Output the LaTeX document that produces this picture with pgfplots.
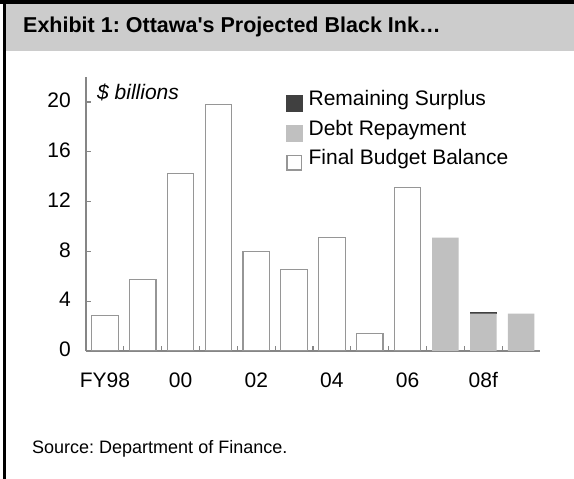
\documentclass[border=0pt]{standalone}
\usepackage{pgfplots}
\pgfplotsset{compat=1.18}
\usepackage{pgfplotstable}
\usepackage{fontspec}
\setmainfont{Liberation Sans}[Ligatures=TeXOff]

\definecolor{hdr}{HTML}{CCCCCC}
\definecolor{axgray}{HTML}{868686}
\definecolor{barline}{HTML}{969696}
\definecolor{debt}{HTML}{C0C0C0}
\definecolor{surplus}{HTML}{404040}

% fiscal years FY98 .. FY09 (08f, 09f forecast), $ billions
\pgfplotstableread{
x final debt surplus
0  2.85  0    0
1  5.75  0    0
2  14.25 0    0
3  19.8  0    0
4  8.0   0    0
5  6.55  0    0
6  9.15  0    0
7  1.4   0    0
8  13.1  0    0
9  0     9.1  0
10 0     3.0  0.1
11 0     3.0  0
}\budget

\begin{document}
\frenchspacing
\begin{tikzpicture}[x=1bp,y=1bp]
\path[use as bounding box] (0,0) rectangle (574,479);
\fill[white] (0,0) rectangle (574,479);
\fill[hdr] (5,428) rectangle (574,475);
\fill[black] (0,475) rectangle (574,478.5);
\fill[black] (3,0) rectangle (5.5,478.5);
\node[anchor=base west, inner sep=0pt, font=\bfseries\fontsize{21.5bp}{25bp}\selectfont]
  at (23,446.5) {Exhibit 1: Ottawa's Projected Black Ink…};
\node[anchor=base west, inner sep=0pt, font=\fontsize{18bp}{22bp}\selectfont]
  at (32,25.5) {Source: Department of Finance.};

\begin{axis}[
    at={(86bp,128bp)}, anchor=south west,
    scale only axis,
    width=454bp, height=273.9bp,
    xmin=-0.5, xmax=11.5,
    ymin=0, ymax=22,
    ybar stacked,
    bar width=0.70,
    axis x line*=bottom,
    axis y line*=left,
    axis line style={axgray, line width=1.5bp, -},
    tick align=inside,
    major tick length=5bp,
    tick style={axgray, line width=1.2bp},
    ytick={0,4,...,20},
    xtick={0.5,1.5,...,10.5},
    xticklabels={,,,,,,,,,,,},
    extra x ticks={0,2,4,6,8,10},
    extra x tick labels={FY98,00,02,04,06,08f},
    extra x tick style={major tick length=0pt,
        xticklabel style={anchor=north, inner sep=0pt, text height=15.5bp,
            text depth=0pt, yshift=-21bp}},
    yticklabel style={anchor=east, inner sep=0pt, xshift=-15bp, yshift=1.5bp},
    tick label style={font=\fontsize{21bp}{25bp}\selectfont},
    /pgf/number format/assume math mode=true,
    legend style={at={(axis description cs:0.4405,0.9686)}, anchor=north west,
        draw=none, fill=none, inner sep=0pt,
        font=\fontsize{21bp}{25bp}\selectfont,
        nodes={inner xsep=6bp, inner ysep=5bp, text height=15bp, text depth=4.5bp},
        /tikz/every even column/.append style={column sep=0pt}},
    legend cell align=left,
]
\addlegendimage{legend image code/.code={\fill[surplus] (0bp,-11bp) rectangle (16bp,5bp);}}
\addlegendentry{Remaining Surplus}
\addlegendimage{legend image code/.code={\fill[debt] (0bp,-11bp) rectangle (16bp,5bp);}}
\addlegendentry{Debt Repayment}
\addlegendimage{legend image code/.code={\draw[fill=white, draw=barline, line width=1.1bp] (0.6bp,-10.4bp) rectangle (15.4bp,4.4bp);}}
\addlegendentry{Final Budget Balance}

\addplot[forget plot, fill=white, draw=barline, line width=1.1bp] table[x=x, y=final] {\budget};
\addplot[forget plot, fill=debt, draw=none] table[x=x, y=debt] {\budget};
\addplot[forget plot, fill=surplus, draw=none] table[x=x, y=surplus] {\budget};

\node[anchor=base west, inner sep=0pt, font=\itshape\fontsize{21bp}{25bp}\selectfont]
  at (axis description cs:0.0242,0.9164) {\$ billions};
\end{axis}
\end{tikzpicture}
\end{document}
